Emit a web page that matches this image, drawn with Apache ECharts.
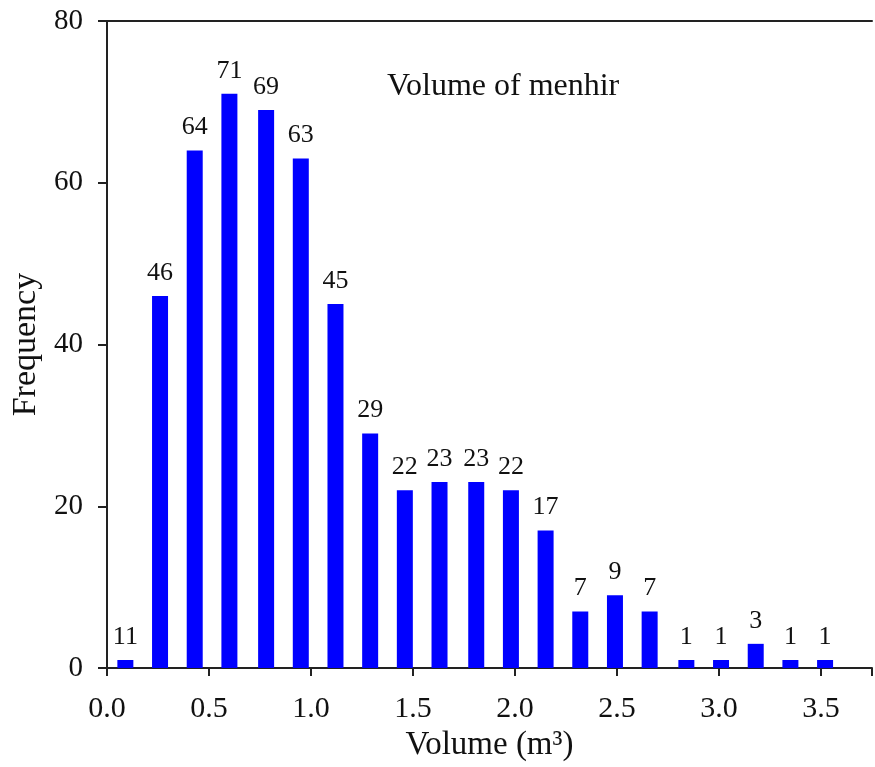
<!DOCTYPE html>
<html>
<head>
<meta charset="utf-8">
<script src="https://cdn.jsdelivr.net/npm/echarts@6/dist/echarts.min.js"></script>
<style>html,body{margin:0;padding:0;background:#fff}#c{width:875px;height:767px}</style>
</head>
<body>
<div id="c"></div>
<script>
// Bin centres (m³)
const binCenters = [0.09, 0.26, 0.43, 0.60, 0.78, 0.95, 1.12, 1.29, 1.46, 1.63, 1.81, 1.98, 2.15, 2.32, 2.49, 2.66, 2.84, 3.01, 3.18, 3.35, 3.52];
// Bar heights (frequency)
const frequencies = [1, 46, 64, 71, 69, 63, 45, 29, 22, 23, 23, 22, 17, 7, 9, 7, 1, 1, 3, 1, 1];
// Labels printed above bars
const barLabels = ["11", "46", "64", "71", "69", "63", "45", "29", "22", "23", "23", "22", "17", "7", "9", "7", "1", "1", "3", "1", "1"];
const xTicks = [0.0, 0.5, 1.0, 1.5, 2.0, 2.5, 3.0, 3.5];
const yTicks = [0, 20, 40, 60, 80];

const FONT = 'Liberation Serif';
const chart = echarts.init(document.getElementById('c'), null, {renderer: 'canvas'});
chart.setOption({
  animation: false,
  backgroundColor: '#fff',
  title: {
    text: 'Volume of menhir', left: 382, top: 66,
    textStyle: {fontFamily: FONT, fontSize: 32, fontWeight: 'normal', color: '#111'}
  },
  grid: {left: 107, right: 1, top: 21, bottom: 96, containLabel: false},
  xAxis: [{
    type: 'value', min: 0, max: 3.75, interval: 0.5,
    name: 'Volume (m³)', nameLocation: 'middle', nameGap: 60,
    nameTextStyle: {fontFamily: FONT, fontSize: 33, color: '#111'},
    axisLine: {show: true, lineStyle: {color: '#222', width: 2}},
    axisTick: {show: true, length: 8, lineStyle: {color: '#222', width: 2}},
    axisLabel: {fontFamily: FONT, fontSize: 30, color: '#111', margin: 26,
      formatter: v => xTicks.includes(v) ? v.toFixed(1) : ''},
    splitLine: {show: false}
  }, {
    type: 'value', position: 'top', min: 0, max: 3.75,
    axisLine: {show: true, onZero: false, lineStyle: {color: '#222', width: 2}},
    axisTick: {show: false}, axisLabel: {show: false}, splitLine: {show: false}
  }],
  yAxis: {
    type: 'value', min: 0, max: 80, interval: 20,
    name: 'Frequency', nameLocation: 'middle', nameGap: 64,
    nameTextStyle: {fontFamily: FONT, fontSize: 34, color: '#111'},
    axisLine: {show: true, lineStyle: {color: '#222', width: 2}},
    axisTick: {show: true, length: 9, lineStyle: {color: '#222', width: 2}},
    axisLabel: {fontFamily: FONT, fontSize: 29, color: '#111', margin: 24,
      formatter: v => yTicks.includes(v) ? String(v) : ''},
    splitLine: {show: false}
  },
  series: [{
    type: 'bar',
    barWidth: 16,
    itemStyle: {color: '#0000ff'},
    data: binCenters.map((x, i) => [x, frequencies[i]]),
    label: {
      show: true, position: 'top', distance: 10,
      fontFamily: FONT, fontSize: 26, color: '#111',
      formatter: p => barLabels[p.dataIndex]
    }
  }]
});
</script>
</body>
</html>
